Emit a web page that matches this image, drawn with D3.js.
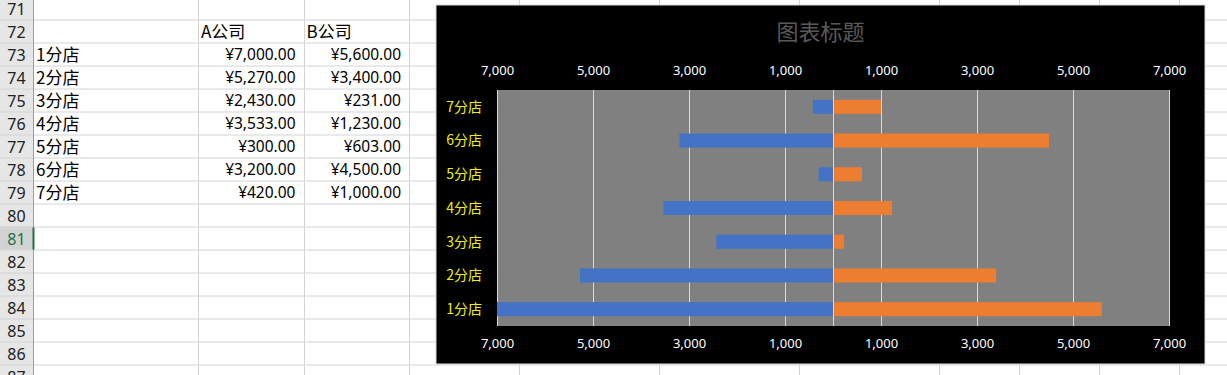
<!DOCTYPE html>
<html>
<head>
<meta charset="utf-8">
<script src="https://cdn.jsdelivr.net/npm/d3@7"></script>
<style>
	body	{ margin:0; background:#fff; }
	svg	{ display:block; }
	.cell	{ font-family:"Noto Sans CJK SC","Noto Sans",sans-serif; font-size:17px; fill:#000; }
	.num	{ font-family:"Noto Sans","Noto Sans CJK SC",sans-serif; font-size:15.5px; fill:#000; }
	.rownum	{ font-family:"Noto Sans","Noto Sans CJK SC",sans-serif; font-size:16px; fill:#222; }
	.tick text	{ font-family:"Noto Sans","Open Sans",sans-serif; font-size:13px; fill:#fff; }
</style>
</head>
<body>
<div id="sheet"></div>
<script>
// data
var	stores		= ["1分店","2分店","3分店","4分店","5分店","6分店","7分店"],
	seriesNames	= ["A公司","B公司"],
	valuesA		= [7000, 5270, 2430, 3533, 300, 3200, 420],
	valuesB		= [5600, 3400, 231, 1230, 603, 4500, 1000],
	tickValues	= [-7000, -5000, -3000, -1000, 1000, 3000, 5000, 7000],
	firstRow	= 71, lastRow = 87, dataRow = 73, activeRow = 81,
	chartTitle	= "图表标题";

var	W = 1227, H = 375,
	rowH	= 23, rowTop = -3.5, hdrW = 33,
	colEdges	= [hdrW, 198, 303.5, 409, 519, 659, 799, 939, 1019, 1099, 1179],
	money	= function(v) { return "¥" + d3.format(",.2f")(v); };

var svg = d3.select("#sheet").append("svg").attr("width", W).attr("height", H);

function rowY(r) { return rowTop + (r - firstRow) * rowH; }

// ---- spreadsheet ----
var rows = d3.range(firstRow, lastRow + 1);
svg.append("rect").attr("x", 0).attr("y", 0).attr("width", hdrW).attr("height", H).attr("fill", "#e6e6e6");
svg.selectAll("rect.hdr").data([activeRow]).enter().append("rect").attr("class", "hdr")
	.attr("x", 0).attr("y", function(r) { return rowY(r); })
	.attr("width", hdrW).attr("height", rowH).attr("fill", "#d2d2d2");
svg.selectAll("line.hrow").data(rows).enter().append("line").attr("class", "hrow")
	.attr("x1", 0).attr("x2", W)
	.attr("y1", function(r) { return rowY(r) + rowH + 0.5; })
	.attr("y2", function(r) { return rowY(r) + rowH + 0.5; })
	.attr("stroke", "#d4d4d4");
svg.selectAll("line.vcol").data(colEdges).enter().append("line").attr("class", "vcol")
	.attr("x1", function(d) { return Math.round(d) + 0.5; })
	.attr("x2", function(d) { return Math.round(d) + 0.5; })
	.attr("y1", 0).attr("y2", H)
	.attr("stroke", function(d, i) { return i ? "#d4d4d4" : "#9b9b9b"; });
svg.append("line").attr("x1", hdrW + 0.5).attr("x2", hdrW + 0.5)
	.attr("y1", rowY(activeRow) + 1).attr("y2", rowY(activeRow) + rowH)
	.attr("stroke", "#217346").attr("stroke-width", 2);
svg.selectAll("text.rownum").data(rows).enter().append("text").attr("class", "rownum")
	.attr("x", hdrW / 2).attr("y", function(r) { return rowY(r) + rowH / 2 + 1; })
	.attr("dy", "0.35em").attr("text-anchor", "middle")
	.style("fill", function(r) { return r == activeRow ? "#217346" : null; })
	.text(function(r) { return r; });

// header row + data rows
var cells = svg.append("g");
cells.selectAll("text.hd").data(seriesNames).enter().append("text").attr("class", "cell hd")
	.attr("x", function(d, i) { return colEdges[i + 1] + 3; })
	.attr("y", rowY(dataRow - 1) + rowH / 2 + 1).attr("dy", "0.35em")
	.text(function(d) { return d; });
cells.selectAll("text.lbl").data(stores).enter().append("text").attr("class", "cell lbl")
	.attr("x", hdrW + 3)
	.attr("y", function(d, i) { return rowY(dataRow + i) + rowH / 2 + 1; }).attr("dy", "0.35em")
	.text(function(d) { return d; });
[valuesA, valuesB].forEach(function(vals, k) {
	cells.selectAll("text.v" + k).data(vals).enter().append("text").attr("class", "num v" + k)
		.attr("x", colEdges[k + 2] - 8).attr("text-anchor", "end")
		.attr("y", function(d, i) { return rowY(dataRow + i) + rowH / 2 + 1; }).attr("dy", "0.35em")
		.text(money);
});

// ---- chart ----
var	box	= {x: 436, y: 5, w: 769, h: 359},
	plot	= {left: 497, right: 1169, top: 90, bottom: 326},
	x	= d3.scaleLinear().domain([-7000, 7000]).range([plot.left, plot.right]),
	y	= d3.scaleBand().domain(stores).range([plot.bottom, plot.top]).paddingInner(0.583).paddingOuter(0.29),
	fmt	= function(d) { return d3.format(",")(Math.abs(d)); };

var chart = svg.append("g");
chart.append("rect").attr("x", box.x).attr("y", box.y).attr("width", box.w).attr("height", box.h)
	.attr("fill", "#000").attr("stroke", "#d9d9d9");
chart.append("text").attr("x", box.x + box.w / 2).attr("y", 40).attr("text-anchor", "middle")
	.style("font-family", '"Noto Sans CJK SC",sans-serif').style("font-size", "22px").style("fill", "#595959")
	.text(chartTitle);
chart.append("rect").attr("x", plot.left).attr("y", plot.top)
	.attr("width", plot.right - plot.left).attr("height", plot.bottom - plot.top).attr("fill", "#808080");

chart.selectAll("line.grid").data(tickValues).enter().append("line").attr("class", "grid")
	.attr("x1", function(d) { return Math.round(x(d)) + 0.5; })
	.attr("x2", function(d) { return Math.round(x(d)) + 0.5; })
	.attr("y1", plot.top).attr("y2", plot.bottom)
	.attr("stroke", "#d9d9d9");

chart.selectAll("rect.barA").data(valuesA).enter().append("rect").attr("class", "barA")
	.attr("x", function(d) { return x(-d); }).attr("width", function(d) { return x(0) - x(-d); })
	.attr("y", function(d, i) { return y(stores[i]); }).attr("height", y.bandwidth())
	.attr("fill", "#4472c4");
chart.selectAll("rect.barB").data(valuesB).enter().append("rect").attr("class", "barB")
	.attr("x", x(0)).attr("width", function(d) { return x(d) - x(0); })
	.attr("y", function(d, i) { return y(stores[i]); }).attr("height", y.bandwidth())
	.attr("fill", "#ed7d31");
// vertical axis line sits on top of the bars
chart.append("line").attr("x1", Math.round(x(0)) + 0.5).attr("x2", Math.round(x(0)) + 0.5)
	.attr("y1", plot.top).attr("y2", plot.bottom).attr("stroke", "#d9d9d9");

chart.append("g").attr("transform", "translate(0,75)")
	.call(d3.axisTop(x).tickValues(tickValues).tickFormat(fmt).tickSize(0).tickPadding(0))
	.call(function(g) { g.select(".domain").remove(); });
chart.append("g").attr("transform", "translate(0,339)")
	.call(d3.axisBottom(x).tickValues(tickValues).tickFormat(fmt).tickSize(0).tickPadding(0))
	.call(function(g) { g.select(".domain").remove(); });

chart.selectAll("text.cat").data(stores).enter().append("text").attr("class", "cat")
	.attr("x", 482).attr("y", function(d) { return y(d) + y.bandwidth() / 2; })
	.attr("dy", "0.35em").attr("text-anchor", "end")
	.style("font-family", '"Noto Sans CJK SC",sans-serif').style("font-size", "14px").style("fill", "#f2f200")
	.text(function(d) { return d; });
</script>
</body>
</html>
